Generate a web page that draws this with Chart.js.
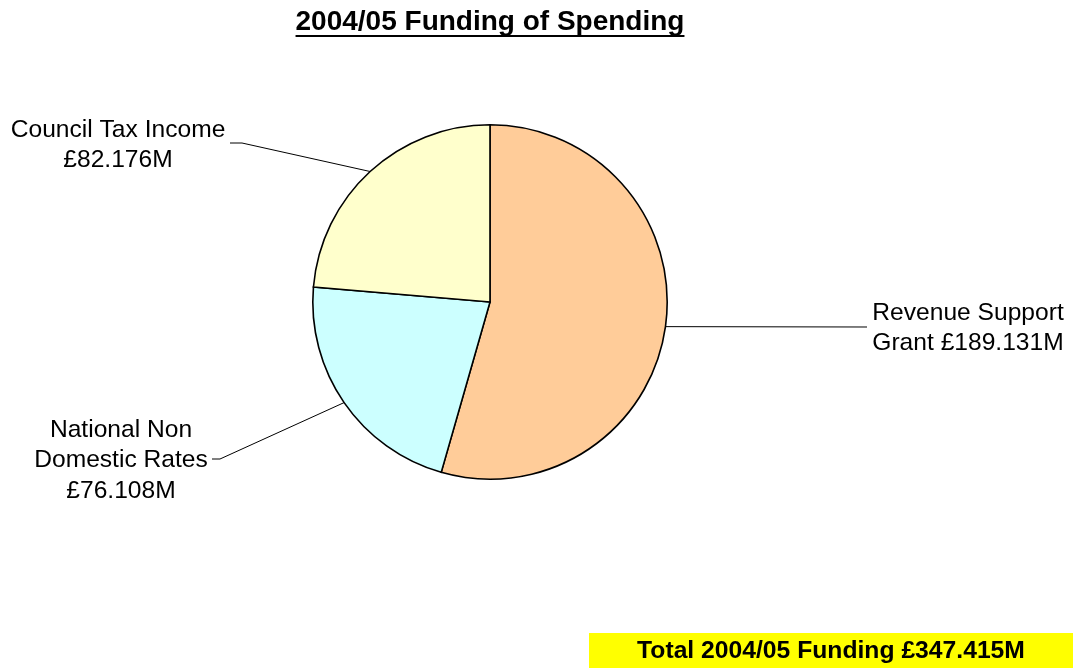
<!DOCTYPE html>
<html>
<head>
<meta charset="utf-8">
<script src="https://cdn.jsdelivr.net/npm/chart.js@4/dist/chart.umd.min.js"></script>
<style>
  html, body { margin: 0; padding: 0; background: #ffffff; }
  #wrap { position: relative; width: 1076px; height: 668px; }
</style>
</head>
<body>
<div id="wrap"><canvas id="c" width="1076" height="668"></canvas></div>
<script>
// ---- data ----
const categories = ["Revenue Support Grant", "National Non Domestic Rates", "Council Tax Income"];
const values = [189.131, 76.108, 82.176];
const labelLines = [
  ["Revenue Support", "Grant £189.131M"],
  ["National Non", "Domestic Rates", "£76.108M"],
  ["Council Tax Income", "£82.176M"]
];
const titleText = "2004/05 Funding of Spending";
const totalText = "Total 2004/05 Funding £347.415M";
const colors = ["#FFCC99", "#CCFFFF", "#FFFFCC"];

// ---- label layout (offsets relative to pie centre) ----
const labelLayout = [
  { elbow: [377, 25],   end: [377, 25],   textX: 478,  baseY: [18, 48] },
  { elbow: [-270, 157], end: [-278, 157], textX: -369, baseY: [135, 165, 196] },
  { elbow: [-248, -159], end: [-260, -159], textX: -372, baseY: [-165, -135] }
];

const FONT = '"Liberation Sans", Arial, sans-serif';

const decorations = {
  id: 'decorations',
  afterDraw(chart) {
    const ctx = chart.ctx;
    const meta = chart.getDatasetMeta(0);
    // title underline
    const t = chart.titleBlock;
    if (t) {
      ctx.save();
      ctx.font = 'bold 28px ' + FONT;
      const w = ctx.measureText(titleText).width;
      const cxT = (t.left + t.right) / 2;
      ctx.fillStyle = '#000';
      ctx.fillRect(cxT - w / 2, 35, w, 2);
      ctx.restore();
    }
    // leader lines and labels
    meta.data.forEach((arc, i) => {
      const p = arc.getProps(['x', 'y', 'startAngle', 'endAngle', 'outerRadius'], true);
      const mid = (p.startAngle + p.endAngle) / 2;
      const ex = p.x + p.outerRadius * Math.cos(mid);
      const ey = p.y + p.outerRadius * Math.sin(mid);
      const L = labelLayout[i];
      ctx.save();
      ctx.strokeStyle = '#000';
      ctx.lineWidth = 1;
      ctx.beginPath();
      ctx.moveTo(ex, ey);
      ctx.lineTo(p.x + L.elbow[0], p.y + L.elbow[1]);
      ctx.lineTo(p.x + L.end[0], p.y + L.end[1]);
      ctx.stroke();
      ctx.fillStyle = '#000';
      ctx.font = '24.6px ' + FONT;
      ctx.textAlign = 'center';
      ctx.textBaseline = 'alphabetic';
      labelLines[i].forEach((line, j) => {
        ctx.fillText(line, p.x + L.textX, p.y + L.baseY[j]);
      });
      ctx.restore();
    });
    // total box
    ctx.save();
    ctx.fillStyle = '#FFFF00';
    ctx.fillRect(589, 633, 484, 35);
    ctx.fillStyle = '#000';
    ctx.font = 'bold 24.7px ' + FONT;
    ctx.textAlign = 'center';
    ctx.textBaseline = 'alphabetic';
    ctx.fillText(totalText, 831, 658);
    ctx.restore();
  }
};

new Chart(document.getElementById('c'), {
  type: 'pie',
  data: {
    labels: categories,
    datasets: [{
      data: values,
      backgroundColor: colors,
      borderColor: '#000000',
      borderWidth: 1.6,
      borderJoinStyle: 'miter'
    }]
  },
  options: {
    responsive: false,
    animation: false,
    devicePixelRatio: 1,
    layout: { padding: { top: 0, left: 0, right: 96, bottom: 188 } },
    plugins: {
      legend: { display: false },
      tooltip: { enabled: false },
      title: {
        display: true,
        text: titleText,
        color: '#000',
        font: { family: FONT, size: 28, weight: 'bold', lineHeight: 1.2 },
        padding: { top: 5, bottom: 85.4 }
      }
    }
  },
  plugins: [decorations]
});
</script>
</body>
</html>
